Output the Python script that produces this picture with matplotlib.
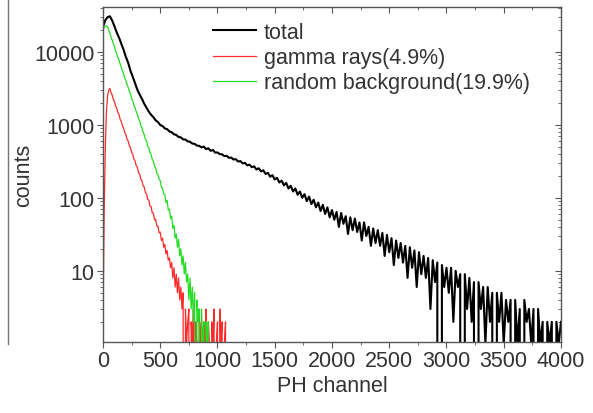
import numpy as np
import matplotlib
matplotlib.use('Agg')
import matplotlib.pyplot as plt
from matplotlib.lines import Line2D
from matplotlib.ticker import FixedLocator, MultipleLocator, NullFormatter

# -------------------------------
# data
# -------------------------------
total_step = 20
total_counts = [
    22000, 27000, 29800, 30600, 26800, 22300, 18300, 15600, 12900, 10600,
    8450, 7050, 5480, 4530, 3680, 3020, 2590, 2270, 1940, 1710,
    1510, 1370, 1270, 1150, 1090, 990, 960, 890, 870, 810,
    790, 740, 725, 680, 672, 630, 628, 592, 585, 552,
    548, 518, 515, 490, 502, 465, 476, 440, 452, 415,
    418, 396, 394, 372, 376, 352, 356, 334, 338, 314,
    318, 296, 300, 278, 284, 262, 270, 244, 254, 230,
    238, 212, 220, 194, 204, 178, 188, 162, 172, 148,
    160, 134, 146, 122, 134, 110, 122, 100, 112, 90,
    104, 82, 94, 74, 86, 66, 80, 60, 74, 54,
    68, 50, 64, 40, 62, 44, 56, 32, 54, 36,
    52, 34, 46, 26, 46, 30, 40, 22, 38, 24,
    36, 22, 33, 16, 31, 18, 28, 12, 26, 15,
    24, 13, 22, 8, 21, 11, 19, 6, 18, 9,
    16, 8, 15, 3, 14, 7, 13, 0, 12, 6,
    11, 5, 11, 2, 10, 6, 9, 0, 9, 3,
    8, 2, 7, 0, 7, 3, 6, 1, 6, 2,
    5, 0, 5, 2, 5, 1, 4, 2, 4, 0,
    4, 1, 3, 0, 4, 2, 3, 1, 3, 0,
    3, 1, 2, 0, 2, 1, 2, 0, 2, 1,
    2,
]

gamma_step = 10
gamma_counts = [
    2, 60, 480, 1500, 2500, 2950, 3150, 2750, 2560, 2230,
    2080, 1800, 1690, 1460, 1380, 1180, 1110, 960, 905, 780,
    735, 630, 598, 512, 485, 418, 394, 338, 320, 275,
    262, 222, 212, 180, 172, 146, 140, 118, 114, 95,
    93, 77, 76, 62, 62, 50, 51, 41, 41, 33,
    34, 26, 28, 21, 23, 17, 19, 14, 15, 11,
    13, 8, 11, 6, 9, 5, 8, 4, 6, 3,
    5, 0, 3, 1, 2, 3, 0, 2, 1, 3,
    0, 2, 1, 0, 3, 1, 2, 0, 2, 1,
    3, 0, 2, 1, 0, 2, 1, 3, 0, 1,
    2, 0, 3, 1, 2, 0, 1, 2, 0, 1,
    0,
]

random_step = 10
random_counts = [
    20000, 21500, 22400, 22600, 21800,
    19700, 17900, 15900, 14500, 12800, 11700, 10300, 9450, 8350, 7620,
    6750, 6150, 5440, 4980, 4400, 4020, 3550, 3250, 2870, 2630,
    2310, 2130, 1860, 1720, 1510, 1390, 1210, 1130, 975, 910,
    790, 735, 635, 600, 512, 482, 414, 392, 335, 318,
    268, 258, 216, 210, 180, 172, 140, 137, 112, 111,
    86, 92, 68, 70, 52, 56, 38, 42, 28, 32,
    21, 27, 16, 20, 12, 16, 9, 13, 7, 9,
    4, 8, 3, 6, 2, 5, 0, 4, 2, 3,
    0, 3, 1, 2, 0, 2, 1, 2, 0, 1,
    1,
]

labels = ["total", "gamma rays(4.9%)", "random background(19.9%)"]
colors = ["black", "#ff2a2a", "#22dd22"]

y_ticks = [10, 100, 1000, 10000]
y_ticklabels = ["10", "100", "1000", "10000"]

total_ch = np.arange(len(total_counts)) * total_step
gamma_ch = np.arange(len(gamma_counts)) * gamma_step
random_ch = np.arange(len(random_counts)) * random_step

# -------------------------------
# figure
# -------------------------------
plt.rcParams['font.family'] = ['Liberation Sans', 'DejaVu Sans']
fs = 15.5
fig = plt.figure(figsize=(5.93, 4.14), dpi=100)
ax = fig.add_axes([0.1737, 0.1715, 0.7723, 0.8092])

ax.plot(total_ch, total_counts, color=colors[0], lw=1.5, label=labels[0])
ax.plot(gamma_ch, gamma_counts, color=colors[1], lw=0.9, label=labels[1])
ax.plot(random_ch, random_counts, color=colors[2], lw=0.9, label=labels[2])

ax.set_yscale('log')
ax.set_xlim(0, 4000)
ax.set_ylim(1.06, 41000)

ax.xaxis.set_major_locator(MultipleLocator(500))
ax.xaxis.set_minor_locator(MultipleLocator(250))
ax.yaxis.set_major_locator(FixedLocator(y_ticks))
ax.set_yticklabels(y_ticklabels)
ax.yaxis.set_minor_formatter(NullFormatter())

txt = "#333333"
for s in ax.spines.values():
    s.set_color("#555555")
    s.set_linewidth(1.0)
ax.tick_params(which='both', direction='out', colors="#555555", labelcolor=txt,
               labelsize=fs)
ax.tick_params(which='major', length=4, pad=2)
ax.tick_params(which='minor', length=2)

# mirrored ticks on top and right, pointing inward
top = ax.secondary_xaxis('top')
top.xaxis.set_major_locator(MultipleLocator(500))
top.xaxis.set_minor_locator(MultipleLocator(250))
top.tick_params(which='both', direction='in', colors="#555555", labeltop=False)
top.tick_params(which='major', length=4)
top.tick_params(which='minor', length=2)
top.spines['top'].set_visible(False)

right = ax.secondary_yaxis('right')
right.yaxis.set_major_locator(FixedLocator(y_ticks))
right.tick_params(which='both', direction='in', colors="#555555", labelright=False)
right.tick_params(which='major', length=4)
right.tick_params(which='minor', length=2)
right.yaxis.set_minor_formatter(NullFormatter())
right.spines['right'].set_visible(False)

ax.set_xlabel("PH channel", fontsize=fs, color=txt, labelpad=3)
ax.set_ylabel("counts", fontsize=fs, color=txt, labelpad=0)

ax.legend(loc='upper left', bbox_to_anchor=(0.24, 0.956), frameon=False,
          fontsize=fs, handlelength=2.0, handletextpad=0.35,
          labelspacing=0.2, borderpad=0, borderaxespad=0,
          labelcolor=txt)

# edge of the neighbouring panel on the left
fig.add_artist(Line2D([8 / 593, 8 / 593], [1 - 345 / 414, 1.0],
                      color="#777777", lw=1.0))

fig.savefig("out.png", dpi=100)
plt.close(fig)
